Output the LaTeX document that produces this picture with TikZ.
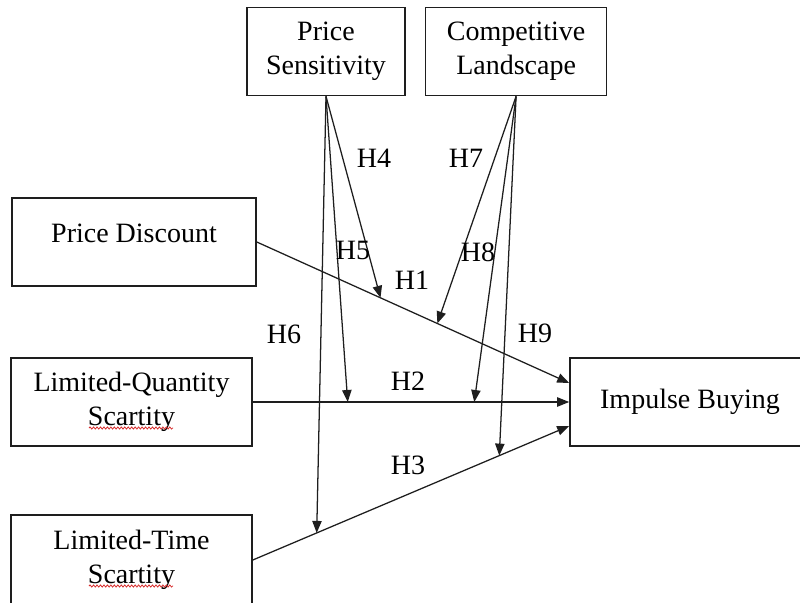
\documentclass[tikz,border=0pt]{standalone}
\usepackage{fontspec}
\setmainfont{Liberation Serif}
\usetikzlibrary{positioning,calc,arrows.meta,decorations.pathmorphing}
\definecolor{lineDark}{RGB}{30,30,30}
\definecolor{spellRed}{RGB}{215,45,45}

\begin{document}
\begin{tikzpicture}[
  x=0.75pt,y=-0.75pt,
  font=\fontsize{21}{25.5}\selectfont,
  var/.style={draw=lineDark,line width=1.2pt,align=center,inner sep=0pt,
              minimum height=66pt},
  effect/.style={-{Triangle[length=9pt,width=7pt]},line width=0.95pt,draw=lineDark},
  hyp/.style={inner sep=1pt},
  spell/.style={draw=spellRed,line width=0.6pt,decorate,
                decoration={snake,amplitude=0.8pt,segment length=2.6pt}}
]
\useasboundingbox (0,0) rectangle (800,603);

% ==========  Moderators (top row)  ==========
\node[var,minimum width=118.5pt] (ps) at (326,51.5) {Price\\Sensitivity};
\node[var,minimum width=135.75pt,right=14.25pt of ps] (cl) {Competitive\\Landscape};

% ==========  Predictors (left column)  ==========
\node[var,minimum width=183pt] (pd) at (134,242) {};
\node[inner sep=0pt] (pdtext) at (134,233) {Price Discount};
\node[var,minimum width=180.75pt] (lq) at (131.5,402) {Limited-Quantity\\Scartity};
\node[var,minimum width=180.75pt,minimum height=67.5pt] (lt) at (131.5,560)
  {Limited-Time\\Scartity};

% spell-check marks under "Scartity"
\draw[spell] (89,428) -- (173,428);
\draw[spell] (89,586) -- (173,586);

% ==========  Outcome  ==========
\node[var,minimum width=180pt] (ib) at (690,402) {Impulse Buying};

% ==========  Direct effects H1--H3  ==========
\draw[effect] (pd.east) -- ([yshift=14.25pt]ib.west)
  coordinate[pos=0.396] (h1a) coordinate[pos=0.578] (h1b);
\draw[effect] (lq.east) -- (ib.west)
  coordinate[pos=0.30] (h2a) coordinate[pos=0.70] (h2b);
\draw[effect] (lt.east) -- ([yshift=-18pt]ib.west)
  coordinate[pos=0.202] (h3a) coordinate[pos=0.779] (h3b);

% ==========  Moderating effects H4--H9  ==========
\draw[effect] (ps.south) -- (h1a);
\draw[effect] (ps.south) -- (h2a);
\draw[effect] (ps.south) -- (h3a);
\draw[effect] (cl.south) -- (h1b);
\draw[effect] (cl.south) -- (h2b);
\draw[effect] (cl.south) -- (h3b);

% ==========  Hypothesis labels  ==========
\node[hyp] (lh1) at (412,280) {H1};
\node[hyp] (lh2) at (408,381) {H2};
\node[hyp] (lh3) at (408,465) {H3};
\node[hyp] (lh4) at (374,158) {H4};
\node[hyp] (lh5) at (353,250) {H5};
\node[hyp] (lh6) at (284,334) {H6};
\node[hyp] (lh7) at (466,158) {H7};
\node[hyp] (lh8) at (478,252) {H8};
\node[hyp] (lh9) at (535,333) {H9};

\end{tikzpicture}
\end{document}
